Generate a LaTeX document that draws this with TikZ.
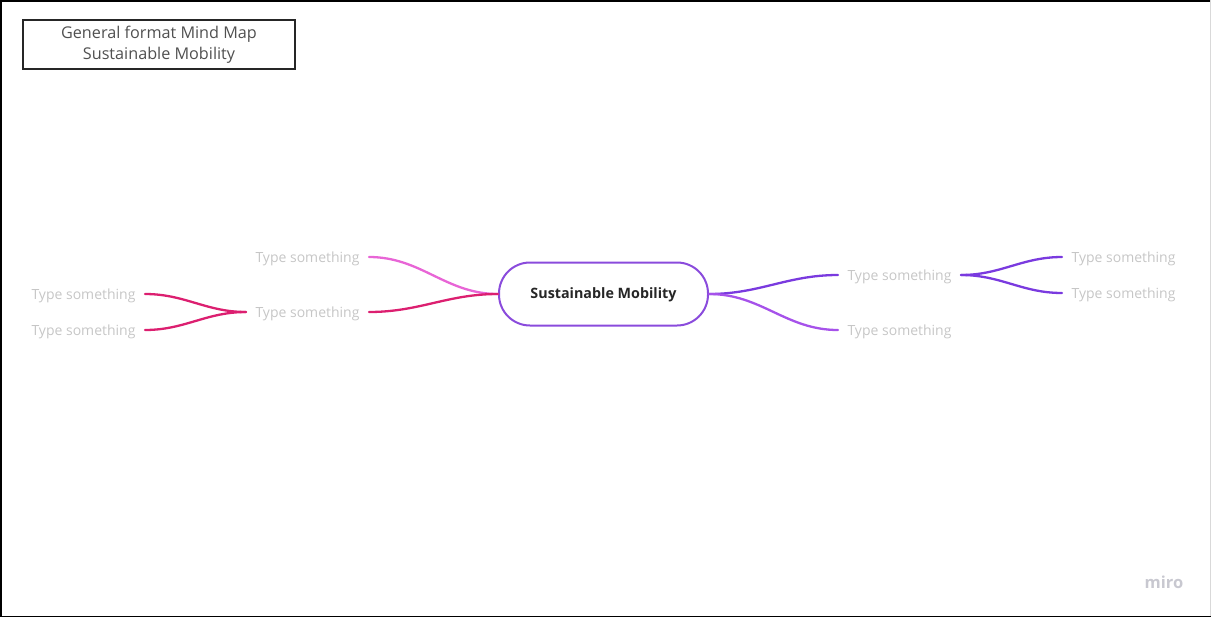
\documentclass[tikz,border=0pt]{standalone}
\usepackage{fontspec}
\setmainfont{Open Sans}
\definecolor{mmgray}{HTML}{C6C6C6}
\definecolor{mmtitle}{HTML}{505050}
\definecolor{mmcenter}{HTML}{8A4BDC}
\definecolor{mmpink}{HTML}{E865D6}
\definecolor{mmcrimson}{HTML}{DC1F70}
\definecolor{mmviolet}{HTML}{7A3ADF}
\definecolor{mmlilac}{HTML}{A652EA}
\definecolor{mmlogo}{HTML}{C8C8D0}
\begin{document}
\begin{tikzpicture}[x=1pt,y=-1pt,
  leaf/.style={inner sep=0pt,outer xsep=9.5pt,outer ysep=0pt,text=mmgray,
    text height=14.3pt,text depth=3.3pt,font=\fontsize{14}{16}\selectfont},
  branch/.style={line width=2.3pt,line cap=round}]
  \useasboundingbox (0,0) rectangle (1211,619);
  % outer frame
  \draw[black,line width=1.5pt] (1211,0.75) -- (0.75,0.75) -- (0.75,616.5) -- (1211,616.5);
  \draw[black!15,line width=1pt] (1210,0) -- (1210,616);

  % title box
  \node[draw=black!85,line width=1.6pt,minimum width=272pt,minimum height=49pt,inner sep=0pt,
        align=center,text=mmtitle,font=\fontsize{16.2}{21.5}\selectfont] (title) at (159,44.5)
        {\raisebox{-2.5pt}{\parbox{272pt}{\centering General format Mind Map\\Sustainable Mobility}}};

  % central topic
  \node[draw=mmcenter,line width=2pt,rounded corners=31pt,minimum width=209pt,minimum height=63pt,
        inner sep=0pt,text=black!85,text height=12.2pt,text depth=3pt,
        font=\fontsize{14.3}{16}\selectfont\bfseries] (c) at (603.5,294)
        {Sustainable Mobility};

  % left side
  \node[leaf] (l1) at (307.5,257) {Type something};
  \node[leaf] (l2) at (307.5,312) {Type something};
  \node[leaf] (l21) at (83.5,294) {Type something};
  \node[leaf] (l22) at (83.5,330) {Type something};

  % right side
  \node[leaf] (r1) at (899.5,275) {Type something};
  \node[leaf] (r2) at (899.5,330) {Type something};
  \node[leaf] (r11) at (1123.5,257) {Type something};
  \node[leaf] (r12) at (1123.5,293) {Type something};

  % branches
  \draw[branch,mmpink] (c.west) to[out=180,in=0] (l1.east);
  \draw[branch,mmcrimson] (c.west) to[out=180,in=0] (l2.east);
  \draw[branch,mmcrimson] (l2.west) to[out=180,in=0] (l21.east);
  \draw[branch,mmcrimson] (l2.west) to[out=180,in=0] (l22.east);
  \draw[branch,mmviolet] (c.east) to[out=0,in=180] (r1.west);
  \draw[branch,mmlilac] (c.east) to[out=0,in=180] (r2.west);
  \draw[branch,mmviolet] (r1.east) to[out=0,in=180] (r11.west);
  \draw[branch,mmviolet] (r1.east) to[out=0,in=180] (r12.west);

  % logo
  \node[inner sep=0pt,text=mmlogo,font=\fontsize{16.5}{18}\selectfont\bfseries] (logo) at (1164,582) {miro};
\end{tikzpicture}
\end{document}
